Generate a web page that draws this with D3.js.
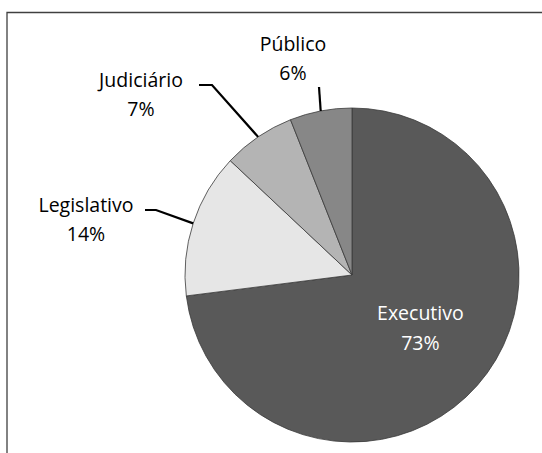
<!DOCTYPE html>
<html><head><meta charset="utf-8">
<script src="https://cdn.jsdelivr.net/npm/d3@7"></script>
<style>html,body{margin:0;padding:0;background:#fff;}svg{display:block;}</style>
</head><body>
<script>
const categories = ["Executivo", "Legislativo", "Judiciário", "Público"];
const values = [73, 14, 7, 6];
const labels = ["73%", "14%", "7%", "6%"];
const colors = ["#595959", "#e6e6e6", "#b4b4b4", "#878787"];

const W = 542, H = 453;
const cx = 352, cy = 275, R = 167;
const svg = d3.select("body").append("svg").attr("width", W).attr("height", H);

// chart frame (only top and left visible)
svg.append("path").attr("d", `M7,${H} L7,12.5 L${W},12.5`).attr("fill", "none").attr("stroke", "#404040").attr("stroke-width", 1.3);

const pie = d3.pie().sort(null).value(d => d);
const arcs = pie(values);
const arc = d3.arc().innerRadius(0).outerRadius(R);
const g = svg.append("g").attr("transform", `translate(${cx},${cy})`);
g.selectAll("path").data(arcs).join("path")
  .attr("d", arc).attr("fill", (d, i) => colors[i])
  .attr("stroke", "#3a3a3a").attr("stroke-width", 0.8);

const font = "'Open Sans', sans-serif";
const fs = 19.5;
// label layout (absolute text centers & elbow points) for outside labels
const layout = [
  {inside: true, r: 0.53},
  {x: 86, y1: 212, elbow: [[145, 210], [156, 210]]},
  {x: 141, y1: 87, elbow: [[199, 85], [212, 85]]},
  {x: 293, y1: 51, elbow: [[319, 87]]}
];

arcs.forEach((a, i) => {
  const L = layout[i];
  const mid = (a.startAngle + a.endAngle) / 2;
  if (L.inside) {
    const px = cx + Math.sin(mid) * R * L.r, py = cy - Math.cos(mid) * R * L.r;
    const t = svg.append("text").attr("text-anchor", "middle")
      .attr("font-family", font).attr("font-size", fs).attr("fill", "#fff");
    t.append("tspan").attr("x", px + 2).attr("y", py - 14).text(categories[i]);
    t.append("tspan").attr("x", px + 2).attr("y", py + 16).text(labels[i]);
  } else {
    const ex = cx + Math.sin(mid) * R, ey = cy - Math.cos(mid) * R;
    const pts = L.elbow.concat([[ex, ey]]);
    svg.append("path").attr("d", d3.line()(pts)).attr("fill", "none")
      .attr("stroke", "#000").attr("stroke-width", 2.2);
    const t = svg.append("text").attr("text-anchor", "middle")
      .attr("font-family", font).attr("font-size", fs).attr("fill", "#000");
    t.append("tspan").attr("x", L.x).attr("y", L.y1).text(categories[i]);
    t.append("tspan").attr("x", L.x).attr("y", L.y1 + 29).text(labels[i]);
  }
});
</script>
</body></html>
